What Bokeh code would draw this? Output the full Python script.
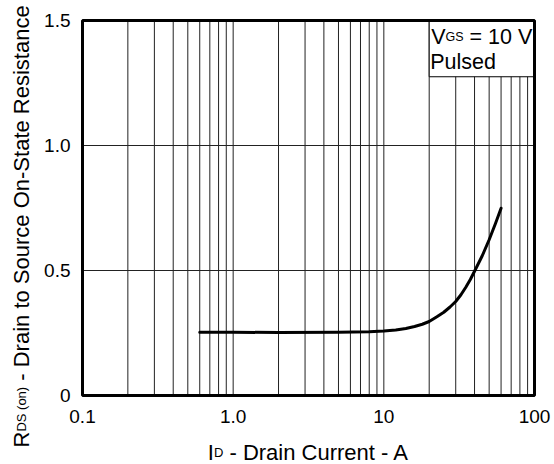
import math
from bokeh.plotting import figure
from bokeh.models import FixedTicker, Label
from bokeh.embed import file_html
from bokeh.resources import INLINE

# ---- data ----
drain_current = [0.6, 1.0, 2.0, 5.0, 8.0, 10.0, 12.0, 14.0, 16.0, 18.0, 20.0,
                 22.5, 25.0, 27.5, 30.0, 32.5, 35.0, 37.5, 40.0, 45.0, 50.0,
                 55.0, 60.0]
rds_on = [0.253, 0.253, 0.252, 0.253, 0.255, 0.258, 0.262, 0.268, 0.276, 0.285,
          0.296, 0.315, 0.333, 0.354, 0.376, 0.403, 0.433, 0.464, 0.497, 0.559,
          0.623, 0.687, 0.749]

x_tick_values = [0.1, 1.0, 10.0, 100.0]
x_tick_labels = ["0.1", "1.0", "10", "100"]
y_tick_values = [0, 0.5, 1.0, 1.5]
y_tick_labels = ["0", "0.5", "1.0", "1.5"]
x_grid_values = [0.2, 0.3, 0.4, 0.5, 0.6, 0.7, 0.8, 0.9, 1.0,
                 2.0, 3.0, 4.0, 5.0, 6.0, 7.0, 8.0, 9.0, 10.0,
                 20.0, 30.0, 40.0, 50.0, 60.0, 70.0, 80.0, 90.0]
y_grid_values = [0.5, 1.0]

FONT = "Liberation Sans"

# ---- layout (pixels of the page) ----
CANVAS_W, CANVAS_H = 554, 464
BOX_L, BOX_R, BOX_T, BOX_B = 82, 534, 20, 395   # plot box edges

x_lo, x_hi = x_tick_values[0], x_tick_values[-1]
y_lo, y_hi = y_tick_values[0], y_tick_values[-1]
px_per_decade = (BOX_R - BOX_L) / (math.log10(x_hi) - math.log10(x_lo))
px_per_unit = (BOX_B - BOX_T) / (y_hi - y_lo)
x_start = 10 ** (math.log10(x_lo) - BOX_L / px_per_decade)
x_end = 10 ** (math.log10(x_hi) + (CANVAS_W - BOX_R) / px_per_decade)
y_start = y_lo - (CANVAS_H - BOX_B) / px_per_unit
y_end = y_hi + BOX_T / px_per_unit

# Arial / Liberation Sans advance widths (per 1000 em)
W = {" ": 278, "(": 333, ")": 333, "-": 333, "=": 584, ".": 278,
     "0": 556, "1": 556, "2": 556, "5": 556,
     "A": 667, "C": 722, "D": 722, "G": 778, "I": 278, "O": 778, "P": 667,
     "R": 722, "S": 667, "V": 667,
     "a": 556, "c": 500, "d": 556, "e": 556, "i": 222, "l": 222, "n": 556,
     "o": 556, "r": 333, "s": 500, "t": 278, "u": 556}


def tw(s, size):
    return sum(W.get(c, 556) for c in s) * size / 1000.0


p = figure(frame_width=CANVAS_W, frame_height=CANVAS_H, x_axis_type="log",
           x_range=(x_start, x_end), y_range=(y_start, y_end),
           output_backend="svg", toolbar_location=None,
           min_border=0, min_border_left=0, min_border_right=0,
           min_border_top=0, min_border_bottom=0)
p.background_fill_color = "white"
p.border_fill_color = "white"
p.outline_line_color = None
p.xgrid.visible = False
p.ygrid.visible = False

for ax in (p.xaxis[0], p.yaxis[0]):
    ax.axis_line_color = None
    ax.major_tick_line_color = None
    ax.minor_tick_line_color = None
    ax.major_label_text_font = FONT
    ax.major_label_text_font_size = "19px"
    ax.major_label_text_color = "black"

p.xaxis.fixed_location = y_lo
p.xaxis.ticker = FixedTicker(ticks=x_tick_values)
p.xaxis.major_label_overrides = dict(zip(x_tick_values, x_tick_labels))
p.xaxis.major_label_standoff = 8
p.yaxis.fixed_location = x_lo
p.yaxis.ticker = FixedTicker(ticks=y_tick_values)
p.yaxis.major_label_overrides = dict(zip(y_tick_values, y_tick_labels))
p.yaxis.major_label_standoff = 6

GRID = "#222222"
n_x = len(x_grid_values)
p.segment(x0=x_grid_values, y0=[y_lo] * n_x, x1=x_grid_values, y1=[y_hi] * n_x,
          line_color=GRID, line_width=1)
n_y = len(y_grid_values)
p.segment(x0=[x_lo] * n_y, y0=y_grid_values, x1=[x_hi] * n_y, y1=y_grid_values,
          line_color=GRID, line_width=1)

# condition box (covers the grid in the upper right corner)
p.quad(left=[20], right=[x_hi], bottom=[1.275], top=[y_hi],
       fill_color="white", fill_alpha=1.0, line_color="black", line_width=1)

p.line(drain_current, rds_on, line_color="black", line_width=3,
       line_join="round", line_cap="round")

# plot box border
p.quad(left=[x_lo], right=[x_hi], bottom=[y_lo], top=[y_hi],
       fill_color=None, line_color="black", line_width=3)


def add_pieces(pieces, x, y, x_off, y_off, angle=0.0):
    """pieces: list of (text, font size px); advances along the text direction"""
    adv = 0.0
    for text, size in pieces:
        stripped = text.lstrip(" ")
        adv += tw(text[:len(text) - len(stripped)], size)
        if angle == 0.0:
            xo, yo = x_off + adv, y_off
        else:
            xo, yo = x_off, y_off + adv
        p.add_layout(Label(x=x, y=y, x_offset=xo, y_offset=yo, text=stripped,
                           text_font=FONT, text_font_size=f"{size}px",
                           text_color="black", text_align="left",
                           text_baseline="alphabetic", angle=angle))
        adv += tw(stripped, size)


# x axis title, centred under the plot box
x_title = [("I", 22), ("D", 13), (" - Drain Current - A", 22)]
x_total = sum(tw(t, s) for t, s in x_title)
add_pieces(x_title, x_lo, y_lo, (BOX_R - BOX_L) / 2.0 - x_total / 2.0, -56.5)

# y axis title, rotated to read upwards
y_title = [("R", 22), ("DS (on)", 13),
           (" - Drain to Source On-State Resistance", 22)]
add_pieces(y_title, x_lo, y_lo, -61, -52, angle=math.pi / 2)

# condition text
add_pieces([("V", 21.5), ("GS", 12.5), (" = 10 V", 21.5)], 20, y_hi, 2, -16.5)
add_pieces([("Pulsed", 21.5)], 20, y_hi, 1, -41.5)

open("out.html", "w").write(file_html(p, INLINE))
